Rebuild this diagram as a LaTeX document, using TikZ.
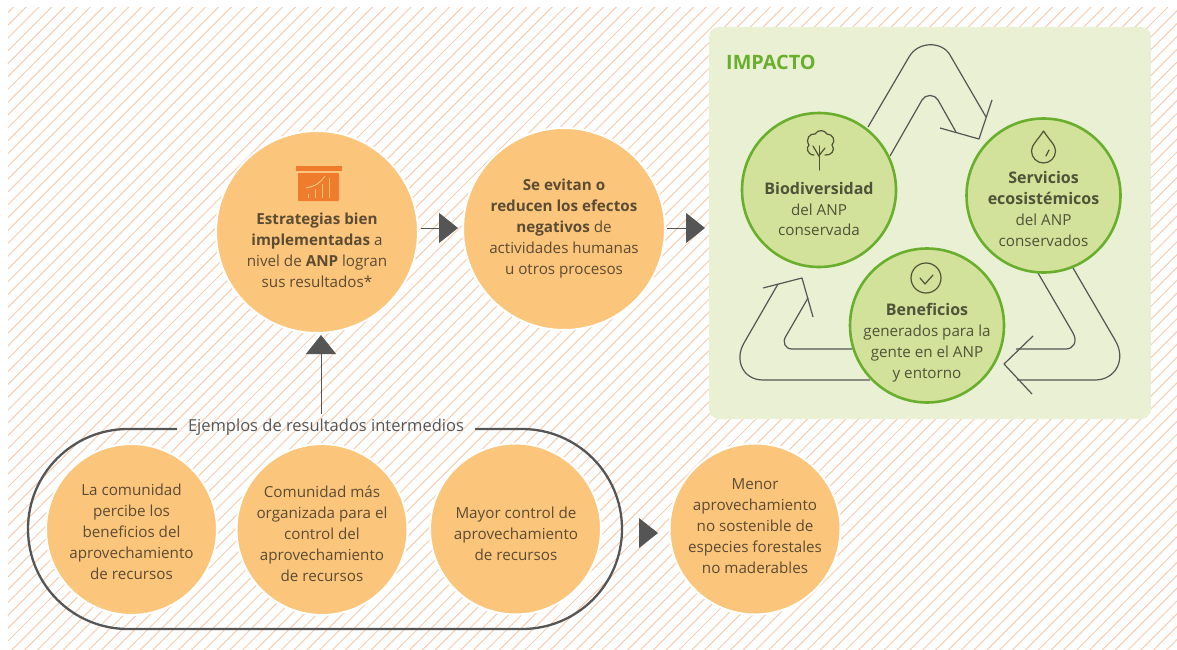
\documentclass[tikz,border=0pt]{standalone}
\usepackage{fontspec}
\setmainfont{Open Sans}
\usetikzlibrary{arrows.meta}
\definecolor{hatchc}{HTML}{F5CDB2}
\definecolor{orangec}{HTML}{FBC67B}
\definecolor{orangedk}{HTML}{EF7B2D}
\definecolor{greenbg}{HTML}{E9F0D3}
\definecolor{greenfill}{HTML}{D2E29B}
\definecolor{greenline}{HTML}{6AAE2E}
\definecolor{inkc}{HTML}{555555}
\definecolor{browntext}{HTML}{5C4B33}
\definecolor{greentext}{HTML}{4F5337}
\newcommand{\gbold}[1]{{\fontsize{16}{20.9}\selectfont\bfseries #1}}
\tikzset{
  orangecirc/.style={circle,fill=orangec,draw=white,line width=2pt,inner sep=0pt,minimum size=#1},
  greencirc/.style={circle,fill=greenfill,draw=greenline,line width=2.6pt,inner sep=0pt,minimum size=#1},
  otext/.style={align=center,text=browntext,inner sep=0pt,font=\fontsize{15.2}{20.9}\selectfont},
  gtext/.style={align=center,text=greentext,inner sep=0pt,font=\fontsize{15.2}{20.9}\selectfont},
  flow/.style={draw=inkc,line width=1pt,-{Triangle[length=19pt,width=30pt,fill=inkc]}},
  cyc/.style={draw=inkc,line width=1.2pt,line join=round},
  icon/.style={draw=greentext,line width=1.2pt,line cap=round,line join=round}
}
\begin{document}
\begin{tikzpicture}[x=1pt,y=-1pt]
\useasboundingbox (0,0) rectangle (1177,650);
% hatch
\begin{scope}
\clip (8,8) rectangle (1177,650);
\foreach \k in {0,...,140}{
  \pgfmathsetmacro{\c}{20.3+12.83*\k}
  \draw[hatchc,line width=1pt] (\c,0) -- ({\c-660},660);
}
\end{scope}
% impact panel
\node[fill=greenbg,rounded corners=10pt,minimum width=442pt,minimum height=392pt,inner sep=0pt] (panel) at (930,223) {};
\node[anchor=west,inner sep=0pt,text=greenline,font=\fontsize{19.8}{20}\selectfont\bfseries] (impacto) at (726,62) {IMPACTO};
% cycle arrows
\draw[cyc] (868,127) -- (909,57) .. controls (918,41) and (942,41) .. (950,55) -- (986,117);
\draw[cyc] (890,156) -- (922,100) .. controls (925,94) and (935,94) .. (938,100) -- (956,132);
\draw[cyc] (992,100) -- (979,139) -- (940,128);
\draw[cyc] (1073,268) -- (1115,340) .. controls (1127,360) and (1115,380) .. (1095,380) -- (1017,380);
\draw[cyc] (1038,273) -- (1073,333) .. controls (1078,342) and (1073,349) .. (1066,349) -- (1016,349);
\draw[cyc] (1033,336) -- (1004,364) -- (1032,394);
\draw[cyc] (870,380) -- (763,380) .. controls (743,380) and (734,360) .. (744,343) -- (778,284);
\draw[cyc] (852,349) -- (792,349) .. controls (785,349) and (782,342) .. (786,336) -- (808,298);
\draw[cyc] (763,288) -- (802,278) -- (813,317);
% pill
\draw[inkc,line width=2.3pt] (177,429) -- (128,429) arc[start angle=90,end angle=270,radius=100pt] -- (522,629) arc[start angle=270,end angle=450,radius=100pt] -- (475,429);
% circles
\node[orangecirc=202pt] (estr) at (317,232) {};
\node[orangecirc=202pt] (evit) at (564,229) {};
\node[orangecirc=171pt] (c1) at (131.5,529.5) {};
\node[orangecirc=171pt] (c2) at (322,529.5) {};
\node[orangecirc=171pt] (c3) at (515.5,529) {};
\node[orangecirc=171pt] (c4) at (755,529) {};
\node[greencirc=154pt] (bio) at (819,190) {};
\node[greencirc=154pt] (serv) at (1043.5,195.5) {};
\node[greencirc=154pt] (ben) at (927,325.5) {};
% texts
\node[otext] (testr) at (317,250) {\textbf{Estrategias bien}\\\textbf{implementadas} a\\nivel de \textbf{ANP} logran\\sus resultados*};
\node[otext] (tevit) at (564,228.5) {\textbf{Se evitan o}\\\textbf{reducen los efectos}\\\textbf{negativos} de\\actividades humanas\\u otros procesos};
\node[otext] (tc1) at (131.5,532) {La comunidad\\percibe los\\beneficios del\\aprovechamiento\\de recursos};
\node[otext] (tc2) at (322,534) {Comunidad más\\organizada para el\\control del\\aprovechamiento\\de recursos};
\node[otext] (tc3) at (516,534) {Mayor control de\\aprovechamiento\\de recursos};
\node[otext] (tc4) at (755,526) {Menor\\aprovechamiento\\no sostenible de\\especies forestales\\no maderables};
\node[gtext] (tbio) at (819,209) {\gbold{Biodiversidad}\\del ANP\\conservada};
\node[gtext] (tserv) at (1043.5,209) {\gbold{Servicios}\\\gbold{ecosistémicos}\\del ANP\\conservados};
\node[gtext] (tben) at (927,342.5) {\gbold{Beneficios}\\generados para la\\gente en el ANP\\y entorno};
\node[inner sep=0pt,text=inkc,font=\fontsize{16.5}{20}\selectfont] (lab) at (326,427) {Ejemplos de resultados intermedios};
% connectors
\coordinate (a1) at (421,228);
\coordinate (a2) at (458,228);
\draw[flow] (a1) -- (a2);
\coordinate (b1) at (667,228);
\coordinate (b2) at (705,228);
\draw[flow] (b1) -- (b2);
\coordinate (u1) at (321,414);
\coordinate (u2) at (321,335);
\draw[flow] (u1) -- (u2);
\fill[inkc] (639,518) -- (658,533) -- (639,548) -- cycle;
% icon: presentation chart
\fill[orangedk] (296,166) rectangle (342,171);
\fill[orangedk,rounded corners=0.8pt] (298,173) rectangle (339,201);
\foreach \x/\t in {308/194,315/189,322/184,329/178}{
  \draw[orangec,line width=1pt] (\x,198) -- (\x,\t);
}
\draw[orangec,line width=1pt] (306,188) .. controls (316,186) and (320,183) .. (325,176);
% icon: tree
\draw[icon] (819.5,170) -- (819.5,146);
\draw[icon] (819.5,157) -- (813,146);
\draw[icon] (819.5,155) -- (825,148);
\draw[icon] (814,155) .. controls (807,155) and (806,147) .. (809,145) .. controls (805,139) and (810,133) .. (815,134) .. controls (818,129) and (825,130) .. (827,134) .. controls (833,134) and (836,141) .. (832,145) .. controls (836,150) and (831,156) .. (825,155);
% icon: drop
\draw[icon] (1043.5,131) .. controls (1037,141) and (1031.5,145) .. (1031.5,151) arc[start angle=180,end angle=360,radius=12pt] .. controls (1055.5,145) and (1050,141) .. (1043.5,131) -- cycle;
\draw[icon] (1049,150) -- (1046,156);
% icon: check
\node[draw=greentext,circle,line width=1.2pt,minimum size=30pt,inner sep=0pt] (chk) at (926,278) {};
\draw[icon] (920,278) -- (925,284) -- (933,275);
\end{tikzpicture}
\end{document}
